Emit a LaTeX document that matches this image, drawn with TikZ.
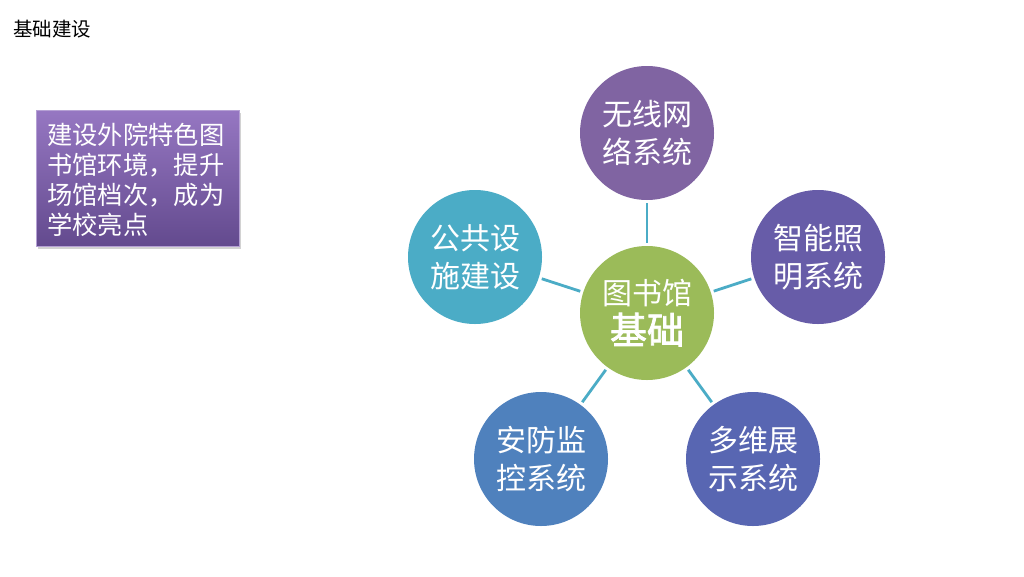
\documentclass[tikz,border=0pt]{standalone}
\usepackage{fontspec}
\setmainfont{Noto Sans CJK SC}
\newfontfamily\boldcjk[FakeBold=2.2]{Noto Sans CJK SC}
\usetikzlibrary{shadows}
\definecolor{cPurple}{HTML}{8064A2}
\definecolor{cViolet}{HTML}{675CA8}
\definecolor{cTeal}{HTML}{4BACC6}
\definecolor{cBlue}{HTML}{4F81BD}
\definecolor{cIndigo}{HTML}{5866B2}
\definecolor{cGreen}{HTML}{9BBB59}
\definecolor{cLine}{HTML}{4BACC6}
\definecolor{boxTop}{HTML}{9677C2}
\definecolor{boxBot}{HTML}{634A8E}
\tikzset{
  bubble/.style={circle, minimum size=134pt, inner sep=0pt, text=white, align=center,
    font=\fontsize{30}{38}\selectfont},
  link/.style={draw=cLine, line width=2.8pt, shorten <=3pt, shorten >=3pt},
}
\begin{document}
\begin{tikzpicture}[x=1pt,y=-1pt]
\useasboundingbox[fill=white] (0,0) rectangle (1024,576);
\node[anchor=west, font=\fontsize{19.5}{22}\selectfont, inner sep=0pt] (title) at (13,29) {基础建设};
\node[anchor=north west, minimum width=203pt, minimum height=136pt, top color=boxTop, bottom color=boxBot,
  draw=boxTop!70!white, line width=0.6pt, drop shadow={shadow xshift=1.5pt, shadow yshift=-2.5pt, opacity=0.35}] (box) at (36,110) {};
\node[anchor=north west, text=white, align=left, inner sep=0pt, font=\fontsize{25.3}{30}\selectfont] (boxtext) at (47,123)
  {建设外院特色图\\书馆环境，提升\\场馆档次，成为\\学校亮点};
\node[bubble, fill=cGreen] (c) at (647,313) {图书馆\\[1pt]{\boldcjk\fontsize{37}{40}\selectfont 基础}};
\node[bubble, fill=cPurple] (t) at (647,133) {无线网\\络系统};
\node[bubble, fill=cViolet] (r) at (818,257) {智能照\\明系统};
\node[bubble, fill=cTeal] (l) at (475,257) {公共设\\施建设};
\node[bubble, fill=cBlue] (bl) at (541,459) {安防监\\控系统};
\node[bubble, fill=cIndigo] (br) at (753,459) {多维展\\示系统};
\foreach \n in {t,r,l,bl,br} \draw[link] (c) -- (\n);
\end{tikzpicture}
\end{document}
